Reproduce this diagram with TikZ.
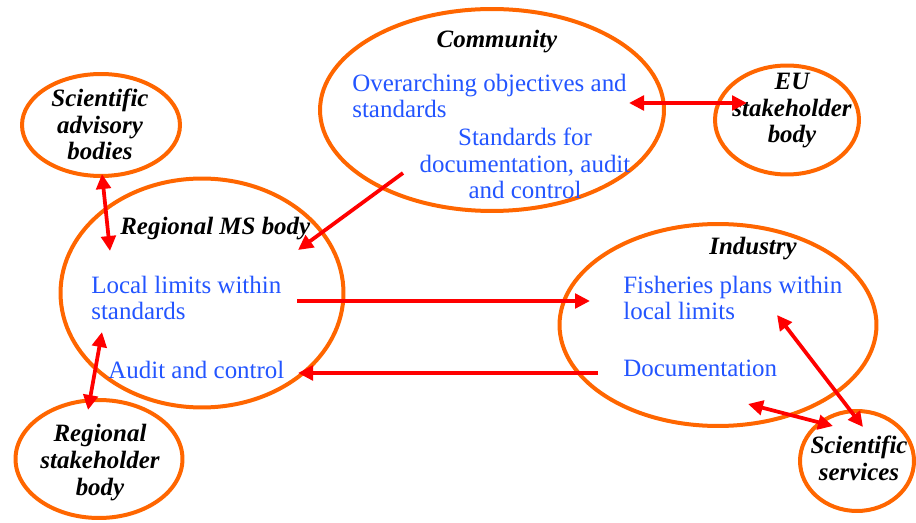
\documentclass[tikz,border=0pt]{standalone}
\usepackage{fontspec}
\setmainfont{Liberation Serif}
\usetikzlibrary{shapes.geometric,arrows.meta}

\definecolor{ringorange}{RGB}{255,102,0}
\definecolor{itemblue}{RGB}{35,85,255}
\definecolor{linkred}{RGB}{255,0,0}

\tikzset{
    body/.style={draw=ringorange, line width=0.08cm, ellipse, inner sep=0pt},
    title/.style={font=\fontsize{14.2}{15.3}\selectfont\bfseries\itshape, align=center, inner sep=0pt},
    item/.style={font=\fontsize{14.2}{15.3}\selectfont, text=itemblue, inner sep=0pt},
    link/.style={draw=linkred, line width=0.075cm, -{Triangle[length=0.3cm,width=0.29cm]}},
    twoway/.style={link, {Triangle[length=0.3cm,width=0.29cm]}-{Triangle[length=0.3cm,width=0.29cm]}}
}

\begin{document}
\begin{tikzpicture}[x=0.02cm, y=-0.02cm]
    \useasboundingbox (0,0) rectangle (916,523);

    % the bodies
    \node[body, minimum width=6.88cm, minimum height=4.04cm] (community) at (492,110) {};
    \node[body, minimum width=2.88cm, minimum height=2.18cm] (eubody) at (787,120) {};
    \node[body, minimum width=3.16cm, minimum height=2.04cm] (advisory) at (101,125) {};
    \node[body, minimum width=5.66cm, minimum height=4.58cm] (regional) at (202,293) {};
    \node[body, minimum width=3.34cm, minimum height=2.36cm] (stakeholder) at (99,459) {};
    \node[body, minimum width=6.34cm, minimum height=4.04cm] (industry) at (718,325) {};
    \node[body, minimum width=2.28cm, minimum height=2.0cm] (services) at (857,461) {};

    % titles (base = last line)
    \node[title, anchor=base] (communityT) at (497,48) {Community};
    \node[title, anchor=base] (eubodyT) at (792,143) {EU\\stakeholder\\body};
    \node[title, anchor=base] (advisoryT) at (100,160) {Scientific\\advisory\\bodies};
    \node[title, anchor=base west] (regionalT) at (120,235) {Regional MS body};
    \node[title, anchor=base] (stakeholderT) at (100,495) {Regional\\stakeholder\\body};
    \node[title, anchor=base] (industryT) at (753,255) {Industry};
    \node[title, anchor=base] (servicesT) at (859,480) {Scientific\\services};

    % contents
    \node[item, align=left, anchor=base west] (objectives) at (352,118) {Overarching objectives and\\standards};
    \node[item, align=center, anchor=base] (standards) at (525,199) {Standards for\\documentation, audit\\and control};
    \node[item, align=left, anchor=base west] (locallimits) at (91,320) {Local limits within\\standards};
    \node[item, anchor=base west] (audit) at (108,378) {Audit and control};
    \node[item, align=left, anchor=base west] (plans) at (623,320) {Fisheries plans within\\local limits};
    \node[item, anchor=base west] (documentation) at (623,377) {Documentation};

    % arrow ends
    \coordinate (cmA) at (403,173);
    \coordinate (cmB) at (298,250);
    \coordinate (euA) at (629,103);
    \coordinate (euB) at (747,103);
    \coordinate (adA) at (102,174);
    \coordinate (adB) at (110,251);
    \coordinate (llA) at (297,301);
    \coordinate (llB) at (590,301);
    \coordinate (dcA) at (598,373);
    \coordinate (dcB) at (298,373);
    \coordinate (shA) at (102,332);
    \coordinate (shB) at (88,410);
    \coordinate (fpA) at (777,315);
    \coordinate (fpB) at (863,427);
    \coordinate (inA) at (748,404);
    \coordinate (inB) at (833,426);

    % links
    \draw[link] (cmA) -- (cmB);
    \draw[twoway] (euA) -- (euB);
    \draw[twoway] (adA) -- (adB);
    \draw[link] (llA) -- (llB);
    \draw[link] (dcA) -- (dcB);
    \draw[twoway] (shA) -- (shB);
    \draw[twoway] (fpA) -- (fpB);
    \draw[twoway] (inA) -- (inB);
\end{tikzpicture}
\end{document}
